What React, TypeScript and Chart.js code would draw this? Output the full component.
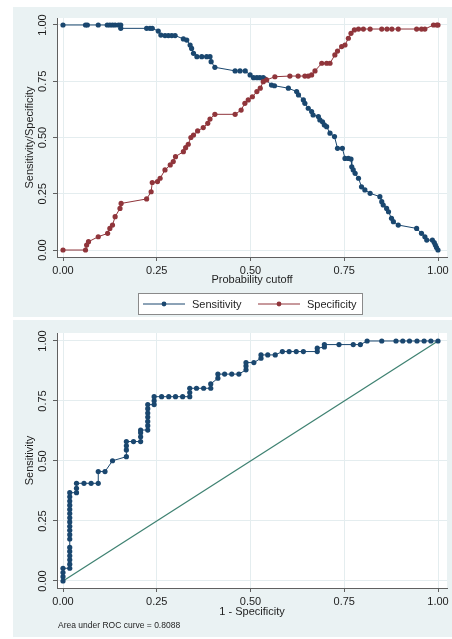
import React, { useEffect, useRef } from "react";
import { Chart, registerables } from "chart.js";

Chart.register(...registerables);

const FONT = "'Liberation Sans', Arial, Helvetica, sans-serif";
const BG = "#EAF2F3";
const NAVY = "#1A476F";
const MAROON = "#90353B";
const DIAG = "#3F8272";
const GRID = "#E4EDEF";
const AXIS = "#606060";
const TEXT = "#1E1E1E";

const tickValues = [0, 0.25, 0.5, 0.75, 1];
const AUC = 0.8088;

// Top chart: sensitivity / specificity vs probability cutoff
const cutoffSens = [
  0, 0.06, 0.065, 0.094, 0.118, 0.125, 0.132, 0.139, 0.148, 0.154, 0.154, 0.223, 0.232, 0.238,
  0.254, 0.261, 0.272, 0.281, 0.29, 0.299, 0.321, 0.33, 0.339, 0.343, 0.348, 0.357, 0.37, 0.383,
  0.392, 0.395, 0.405, 0.459, 0.472, 0.486, 0.499, 0.508, 0.517, 0.525, 0.534, 0.539, 0.556,
  0.564, 0.601, 0.623, 0.628, 0.641, 0.645, 0.654, 0.663, 0.667, 0.681, 0.685, 0.692, 0.697,
  0.703, 0.712, 0.724, 0.732, 0.745, 0.752, 0.761, 0.768, 0.77, 0.774, 0.779, 0.788, 0.796,
  0.805, 0.819, 0.845, 0.85, 0.854, 0.863, 0.868, 0.876, 0.881, 0.894, 0.943, 0.956, 0.965,
  0.97, 0.985, 0.99, 0.993, 0.996, 1.0,
];
const sensitivity = [
  1.0, 1.0, 1.0, 1.0, 1.0, 1.0, 1.0, 1.0, 1.0, 1.0, 0.985, 0.985, 0.985, 0.985,
  0.973, 0.955, 0.953, 0.953, 0.953, 0.953, 0.938, 0.933, 0.911, 0.896, 0.874, 0.859, 0.859, 0.859,
  0.859, 0.837, 0.812, 0.796, 0.796, 0.796, 0.778, 0.766, 0.766, 0.766, 0.766, 0.76, 0.733,
  0.73, 0.719, 0.704, 0.689, 0.667, 0.652, 0.63, 0.615, 0.6, 0.593, 0.578, 0.57, 0.556,
  0.548, 0.519, 0.504, 0.452, 0.452, 0.407, 0.407, 0.404, 0.37, 0.356, 0.341, 0.319, 0.281,
  0.267, 0.252, 0.237, 0.215, 0.2, 0.185, 0.17, 0.141, 0.126, 0.111, 0.096, 0.074, 0.059,
  0.044, 0.044, 0.033, 0.022, 0.011, 0.0,
];
const cutoffSpec = [
  0, 0.06, 0.063, 0.068, 0.094, 0.119, 0.125, 0.132, 0.139, 0.152, 0.155, 0.223, 0.235, 0.238,
  0.252, 0.259, 0.272, 0.286, 0.294, 0.3, 0.321, 0.327, 0.334, 0.341, 0.348, 0.359, 0.374, 0.386,
  0.392, 0.405, 0.459, 0.475, 0.485, 0.494, 0.505, 0.517, 0.526, 0.534, 0.543, 0.565, 0.605,
  0.627, 0.645, 0.654, 0.663, 0.672, 0.69, 0.703, 0.712, 0.725, 0.732, 0.743, 0.752, 0.761,
  0.768, 0.777, 0.788, 0.801, 0.819, 0.85, 0.864, 0.877, 0.894, 0.943, 0.956, 0.965, 0.988,
  0.997, 1.0,
];
const specificity = [
  0, 0, 0.022, 0.037, 0.059, 0.074, 0.096, 0.111, 0.148, 0.185, 0.207, 0.227, 0.259, 0.3,
  0.304, 0.319, 0.356, 0.378, 0.393, 0.415, 0.437, 0.455, 0.47, 0.5, 0.511, 0.529, 0.544, 0.563,
  0.582, 0.603, 0.603, 0.622, 0.652, 0.667, 0.681, 0.704, 0.719, 0.748, 0.756, 0.77, 0.773,
  0.773, 0.773, 0.773, 0.778, 0.796, 0.83, 0.83, 0.83, 0.867, 0.884, 0.904, 0.911, 0.941,
  0.963, 0.978, 0.982, 0.982, 0.982, 0.982, 0.982, 0.982, 0.982, 0.982, 0.982, 0.982, 1.0,
  1.0, 1.0,
];

// Bottom chart: ROC curve
const rocFpr = [
  0, 0, 0, 0,
  0.018, 0.018, 0.018, 0.018, 0.018, 0.018, 0.018, 0.018, 0.018, 0.018, 0.018, 0.018, 0.018,
  0.018, 0.018, 0.018, 0.018, 0.018,
  0.036, 0.036, 0.036, 0.056, 0.075, 0.094, 0.094, 0.112, 0.132,
  0.169, 0.169, 0.169, 0.169, 0.188, 0.207, 0.207, 0.207, 0.207,
  0.226, 0.226, 0.226, 0.226, 0.226, 0.226, 0.226, 0.243, 0.243, 0.243,
  0.263, 0.282, 0.3, 0.319, 0.338, 0.338, 0.338, 0.356, 0.375, 0.394, 0.394,
  0.413, 0.413, 0.431, 0.45, 0.469, 0.488, 0.488, 0.488, 0.509, 0.528, 0.528,
  0.546, 0.566, 0.585, 0.603, 0.622, 0.641, 0.678, 0.678, 0.697, 0.697, 0.736,
  0.774, 0.793, 0.811, 0.85, 0.888, 0.906, 0.924, 0.944, 0.963, 0.981, 1.0,
];
const rocTpr = [
  0, 0.018, 0.035, 0.053,
  0.053, 0.07, 0.088, 0.105, 0.123, 0.14, 0.175, 0.193, 0.211, 0.228, 0.246, 0.263, 0.281,
  0.298, 0.316, 0.333, 0.351, 0.368,
  0.368, 0.386, 0.407, 0.407, 0.407, 0.407, 0.456, 0.456, 0.501,
  0.518, 0.546, 0.563, 0.581, 0.581, 0.581, 0.601, 0.618, 0.629,
  0.629, 0.647, 0.665, 0.683, 0.7, 0.718, 0.735, 0.735, 0.751, 0.768,
  0.768, 0.768, 0.768, 0.768, 0.768, 0.785, 0.803, 0.803, 0.803, 0.803, 0.821,
  0.845, 0.862, 0.862, 0.862, 0.862, 0.88, 0.896, 0.91, 0.91, 0.928, 0.942,
  0.942, 0.942, 0.956, 0.956, 0.956, 0.956, 0.956, 0.97, 0.975, 0.985, 0.985,
  0.985, 0.985, 1.0, 1.0, 1.0, 1.0, 1.0, 1.0, 1.0, 1.0, 1.0,
];
const diagX = [0, 1];
const diagY = [0, 1];

const toPoints = (xs: number[], ys: number[]) => xs.map((x, i) => ({ x, y: ys[i] }));

function xAxis(min: number, max: number, title: string, height: number) {
  return {
    type: "linear",
    position: "bottom",
    min,
    max,
    afterBuildTicks: (s: any) => {
      s.ticks = tickValues.map((v) => ({ value: v }));
    },
    afterFit: (s: any) => {
      s.height = height;
    },
    ticks: {
      callback: (v: any) => Number(v).toFixed(2),
      font: { size: 11, family: FONT },
      color: TEXT,
      padding: 3,
      maxRotation: 0,
      minRotation: 0,
      autoSkip: false,
    },
    grid: { color: GRID, lineWidth: 1, drawTicks: true, tickLength: 4, tickColor: AXIS, tickWidth: 1 },
    border: { display: true, color: AXIS, width: 1 },
    title: { display: true, text: title, font: { size: 11, family: FONT }, color: TEXT, padding: { top: 0, bottom: 0 } },
  };
}

function yAxis(min: number, max: number, title: string) {
  return {
    type: "linear",
    position: "left",
    min,
    max,
    afterBuildTicks: (s: any) => {
      s.ticks = tickValues.map((v) => ({ value: v }));
    },
    afterFit: (s: any) => {
      s.width = 44;
    },
    ticks: { display: false },
    grid: { color: GRID, lineWidth: 1, drawTicks: true, tickLength: 4, tickColor: AXIS, tickWidth: 1 },
    border: { display: true, color: AXIS, width: 1 },
    title: { display: true, text: title, font: { size: 11, family: FONT }, color: TEXT, padding: { top: 10.4, bottom: 0 } },
  };
}

const plotBg = {
  id: "plotBg",
  beforeDraw(chart: any) {
    const { ctx, chartArea: a } = chart;
    ctx.save();
    ctx.fillStyle = "#ffffff";
    ctx.fillRect(a.left, a.top, a.right - a.left, a.bottom - a.top);
    ctx.restore();
  },
};

const yLabels = {
  id: "yLabels",
  afterDraw(chart: any) {
    const { ctx, chartArea: a } = chart;
    const s = chart.scales.y;
    ctx.save();
    ctx.font = `11px ${FONT}`;
    ctx.fillStyle = TEXT;
    ctx.textAlign = "center";
    ctx.textBaseline = "middle";
    for (const v of tickValues) {
      const py = s.getPixelForValue(v);
      ctx.save();
      ctx.translate(a.left - 14, py);
      ctx.rotate(-Math.PI / 2);
      ctx.fillText(v.toFixed(2), 0, 0);
      ctx.restore();
    }
    ctx.restore();
  },
};

const legendItems = [
  { label: "Sensitivity", color: NAVY },
  { label: "Specificity", color: MAROON },
];

const boxLegend = {
  id: "boxLegend",
  afterDraw(chart: any) {
    const { ctx } = chart;
    const bx = 125, by = 286, bw = 225, bh = 22;
    ctx.save();
    ctx.fillStyle = "#ffffff";
    ctx.fillRect(bx, by, bw, bh);
    ctx.strokeStyle = "#8a8a8a";
    ctx.lineWidth = 1;
    ctx.strokeRect(bx + 0.5, by + 0.5, bw - 1, bh - 1);
    const cy = by + bh / 2;
    legendItems.forEach((it, i) => {
      const x0 = bx + 5 + i * 115;
      ctx.strokeStyle = it.color;
      ctx.lineWidth = 1;
      ctx.beginPath();
      ctx.moveTo(x0, cy);
      ctx.lineTo(x0 + 42, cy);
      ctx.stroke();
      ctx.fillStyle = it.color;
      ctx.beginPath();
      ctx.arc(x0 + 21, cy, 2.4, 0, Math.PI * 2);
      ctx.fill();
      ctx.fillStyle = TEXT;
      ctx.font = `11px ${FONT}`;
      ctx.textAlign = "left";
      ctx.textBaseline = "middle";
      ctx.fillText(it.label, x0 + 49, cy + 0.5);
    });
    ctx.restore();
  },
};

const aucNote = {
  id: "aucNote",
  afterDraw(chart: any) {
    const { ctx } = chart;
    ctx.save();
    ctx.fillStyle = TEXT;
    ctx.font = `8.5px ${FONT}`;
    ctx.textAlign = "left";
    ctx.textBaseline = "middle";
    ctx.fillText(`Area under ROC curve = ${AUC.toFixed(4)}`, 45, 306);
    ctx.restore();
  },
};

function lineSet(label: string, xs: number[], ys: number[], color: string, points: boolean, width = 1) {
  return {
    label,
    data: toPoints(xs, ys),
    borderColor: color,
    backgroundColor: color,
    borderWidth: width,
    pointRadius: points ? 2.6 : 0,
    pointHoverRadius: points ? 2.6 : 0,
    pointBorderWidth: 0,
    pointBackgroundColor: color,
    tension: 0,
    fill: false,
  };
}

function topConfig(): any {
  return {
    type: "line",
    data: {
      datasets: [
        lineSet("Specificity", cutoffSpec, specificity, MAROON, true),
        lineSet("Sensitivity", cutoffSens, sensitivity, NAVY, true),
      ],
    },
    options: {
      responsive: false,
      animation: false,
      devicePixelRatio: 1,
      layout: { padding: { top: 11, right: 5, left: 0, bottom: 30 } },
      plugins: { legend: { display: false }, tooltip: { enabled: false } },
      scales: {
        x: xAxis(-0.016, 1.024, "Probability cutoff", 30),
        y: yAxis(-0.031, 1.031, "Sensitivity/Specificity"),
      },
    },
    plugins: [plotBg, yLabels, boxLegend],
  };
}

function bottomConfig(): any {
  return {
    type: "line",
    data: {
      datasets: [
        lineSet("ROC", rocFpr, rocTpr, NAVY, true),
        lineSet("Reference", diagX, diagY, DIAG, false, 1.3),
      ],
    },
    options: {
      responsive: false,
      animation: false,
      devicePixelRatio: 1,
      layout: { padding: { top: 13, right: 5, left: 0, bottom: 18 } },
      plugins: { legend: { display: false }, tooltip: { enabled: false } },
      scales: {
        x: xAxis(-0.016, 1.024, "1 - Specificity", 31),
        y: yAxis(-0.0292, 1.0333, "Sensitivity"),
      },
    },
    plugins: [plotBg, yLabels, aucNote],
  };
}

function ChartCanvas({ width, height, makeConfig }: { width: number; height: number; makeConfig: () => any }) {
  const ref = useRef<HTMLCanvasElement | null>(null);
  useEffect(() => {
    const chart = new Chart(ref.current as HTMLCanvasElement, makeConfig());
    return () => chart.destroy();
  }, []);
  return <canvas ref={ref} width={width} height={height} style={{ display: "block", width, height }} />;
}

export default function App() {
  return (
    <div style={{ position: "absolute", left: 0, top: 0, width: 452, height: 639, background: "#ffffff" }}>
      <div style={{ position: "absolute", left: 13, top: 7, width: 439, height: 310, background: BG }}>
        <ChartCanvas width={439} height={310} makeConfig={topConfig} />
      </div>
      <div style={{ position: "absolute", left: 13, top: 320, width: 439, height: 317, background: BG }}>
        <ChartCanvas width={439} height={317} makeConfig={bottomConfig} />
      </div>
    </div>
  );
}
